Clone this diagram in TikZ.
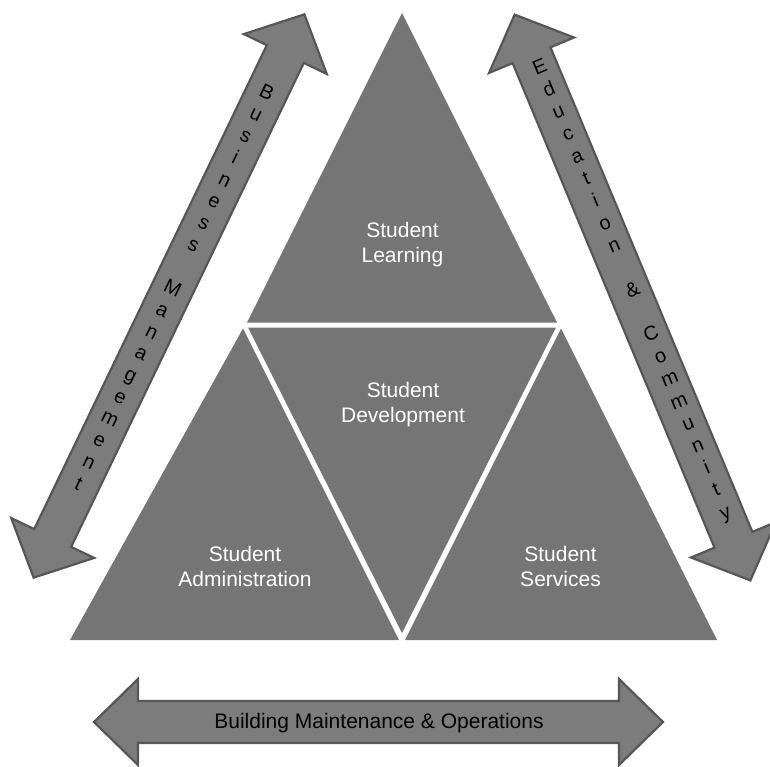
\documentclass[tikz,border=0pt]{standalone}
\usepackage{fontspec}
\setmainfont{Liberation Sans}
\definecolor{trigray}{RGB}{117,117,117}
\definecolor{arrfill}{RGB}{124,124,124}
\definecolor{arrline}{RGB}{86,86,86}
\newcommand{\dblarrowshape}[4]{(#1,0) -- ({#1-#2},#3) -- ({#1-#2},#4) -- ({-#1+#2},#4) -- ({-#1+#2},#3) -- (-#1,0) -- ({-#1+#2},-#3) -- ({-#1+#2},-#4) -- ({#1-#2},-#4) -- ({#1-#2},-#3) -- cycle}
\tikzset{
  tri/.style={fill=trigray, draw=none},
  bigarrow/.style={fill=arrfill, draw=arrline, line width=2.2pt, line join=miter},
  tlabel/.style={text=white, align=center, font=\fontsize{21}{25}\selectfont, inner sep=0pt},
  stack/.style={text=black, align=center, font=\fontsize{20}{24.1}\selectfont, inner sep=0pt, transform shape, rotate=-90},
  hlabel/.style={text=black, font=\fontsize{21}{25}\selectfont, inner sep=0pt, anchor=base}
}
\begin{document}
\begin{tikzpicture}[x=1pt,y=-1pt]
\useasboundingbox (0,0) rectangle (770,766);
% triangles
\path[tri] (402,13) -- (247,322.5) -- (557,322.5) -- cycle;
\path[tri] (243,328.5) -- (70,640) -- (399,640) -- cycle;
\path[tri] (248,327.5) -- (556,327.5) -- (402,633) -- cycle;
\path[tri] (561,328.5) -- (405,640) -- (717,640) -- cycle;
\node[tlabel] (learn) at (402.5,245) {Student\\Learning};
\node[tlabel] (devel) at (403,405) {Student\\Development};
\node[tlabel] (admin) at (245,566) {Student\\Administration};
\node[tlabel] (serv) at (560.5,566) {Student\\Services};
% left diagonal arrow
\begin{scope}[shift={(169,296)}, rotate=64.33]
\draw[bigarrow] \dblarrowshape{312.5}{44}{46}{20.5};
\node[stack] (bm) at (9,0) {B\\u\\s\\i\\n\\e\\s\\s\\[0pt]~\\M\\a\\n\\a\\g\\e\\m\\e\\n\\t};
\end{scope}
% right diagonal arrow
\begin{scope}[shift={(632.5,297.5)}, rotate=112.62]
\draw[bigarrow] \dblarrowshape{306.5}{44}{46}{20.5};
\node[stack] (ec) at (5.5,3) {E\\d\\u\\c\\a\\t\\i\\o\\n\\~\\\&\\~\\C\\o\\m\\m\\u\\n\\i\\t\\y};
\end{scope}
% bottom arrow
\begin{scope}[shift={(378.5,722)}]
\draw[bigarrow] \dblarrowshape{284.5}{44}{43}{21};
\end{scope}
\node[hlabel] (bmo) at (379,728) {Building Maintenance \& Operations};
\end{tikzpicture}
\end{document}
